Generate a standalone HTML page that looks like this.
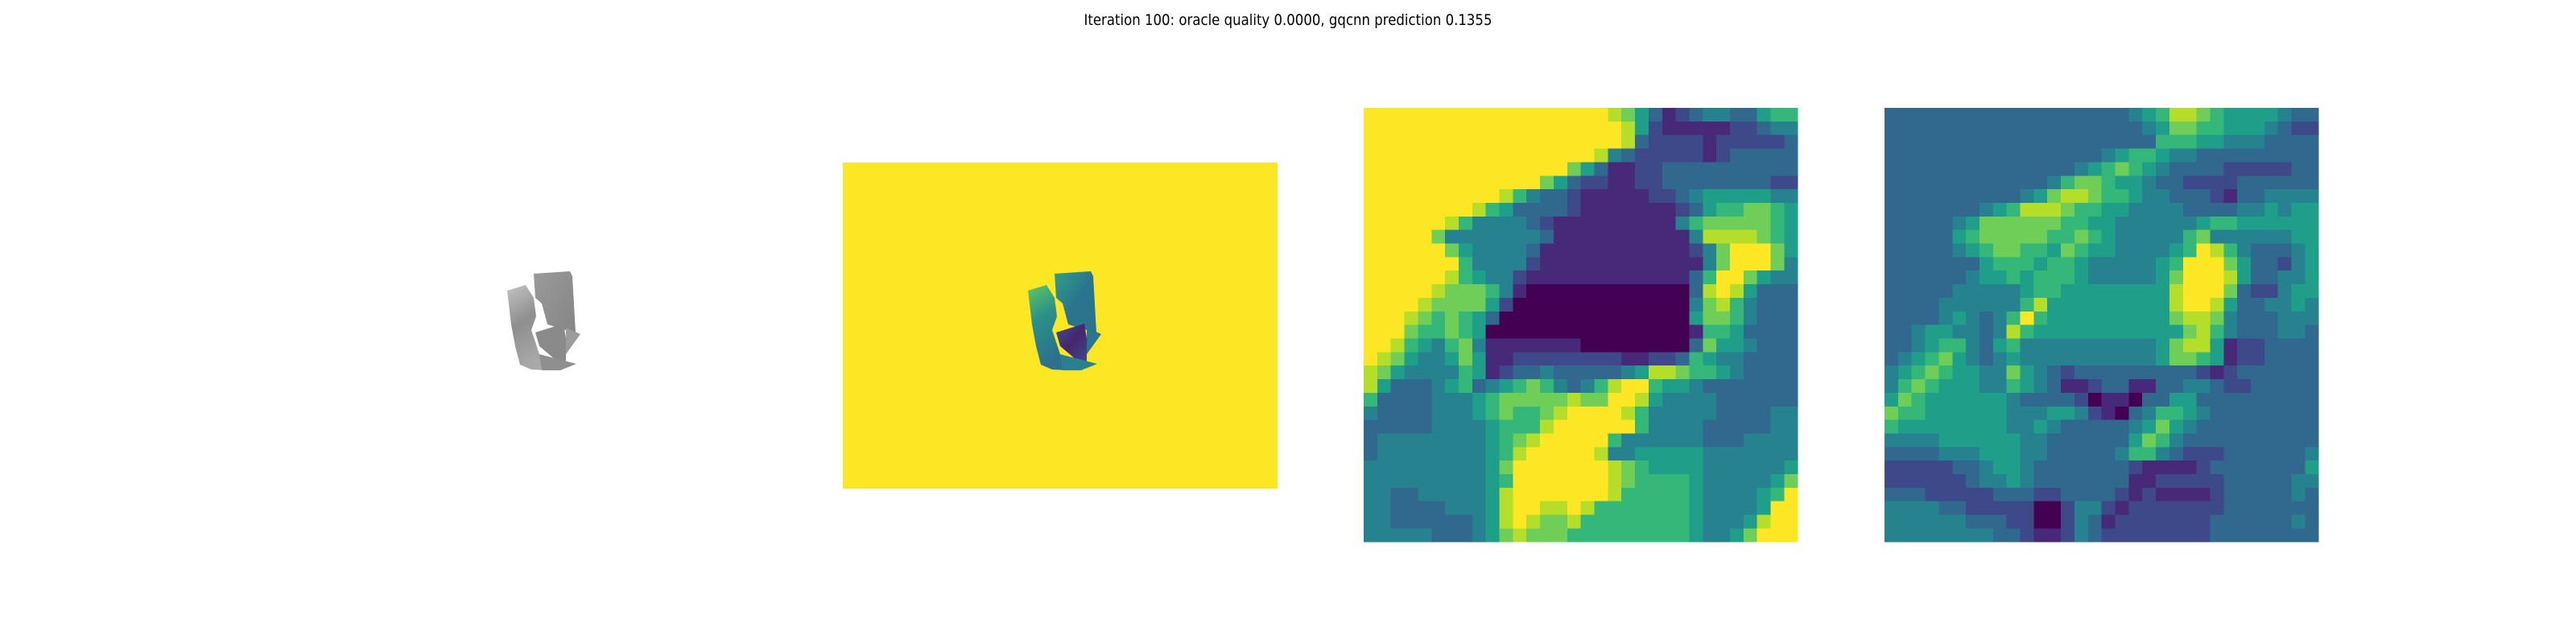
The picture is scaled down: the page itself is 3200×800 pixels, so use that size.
<!DOCTYPE html>
<html><head><meta charset="utf-8"><style>
html,body{margin:0;padding:0;background:#fff;}
svg{display:block;}
</style></head><body>
<svg id="fig" width="3200" height="800" viewBox="0 0 3200 800" xmlns="http://www.w3.org/2000/svg" shape-rendering="crispEdges">
<defs>
<linearGradient id="gArmL" x1="0" y1="0" x2="0.3" y2="1"><stop offset="0" stop-color="#5ec962"/><stop offset="0.45" stop-color="#2a8f8a"/><stop offset="1" stop-color="#2c6f8e"/></linearGradient>
<linearGradient id="gBlock" x1="0" y1="0" x2="1" y2="1"><stop offset="0" stop-color="#2fa184"/><stop offset="0.5" stop-color="#2b758e"/><stop offset="1" stop-color="#2c728e"/></linearGradient>
<linearGradient id="gDark" x1="0" y1="0" x2="1" y2="1"><stop offset="0" stop-color="#3b528b"/><stop offset="0.5" stop-color="#46256f"/><stop offset="1" stop-color="#3e4a89"/></linearGradient>
<linearGradient id="gGrayL" x1="0" y1="0" x2="0.3" y2="1"><stop offset="0" stop-color="#c4c4c4"/><stop offset="0.5" stop-color="#8e8e8e"/><stop offset="1" stop-color="#a8a8a8"/></linearGradient>
<linearGradient id="gGrayB" x1="0" y1="0" x2="1" y2="1"><stop offset="0" stop-color="#9a9a9a"/><stop offset="1" stop-color="#858585"/></linearGradient>
</defs>
<text x="1600" y="31" text-anchor="middle" font-family="'DejaVu Sans','Liberation Sans',sans-serif" font-size="19" textLength="507" lengthAdjust="spacingAndGlyphs" fill="#000" shape-rendering="auto">Iteration 100: oracle quality 0.0000, gqcnn prediction 0.1355</text>

<g transform="translate(-647,0)" shape-rendering="auto">
  <polygon points="1310,340 1355,337 1358,343 1362,413 1350,410 1327,403 1320,377 1312,370" fill="url(#gGrayB)"/>
  <polygon points="1277,361 1300,354 1310,370 1313,393 1307,410 1317,440 1327,460 1307,459 1293,453 1287,430 1282,403" fill="url(#gGrayL)"/>
  <polygon points="1312,413 1347,402 1350,420 1350,450 1337,447 1317,430" fill="#8a8a8a"/>
  <polygon points="1350,407 1368,415 1350,440" fill="#9c9c9c"/>
  <polygon points="1317,440 1363,452 1343,460 1320,460" fill="#8f8f8f"/>
</g>

<g>
  <rect x="1047" y="202" width="540" height="405" fill="#fde725"/>
  <g shape-rendering="auto">
  <polygon points="1310,340 1355,337 1358,343 1362,413 1350,410 1327,403 1320,377 1312,370" fill="url(#gBlock)"/>
  <polygon points="1277,361 1300,354 1310,370 1313,393 1307,410 1317,440 1327,460 1307,459 1293,453 1287,430 1282,403" fill="url(#gArmL)"/>
  <polygon points="1312,413 1347,402 1350,420 1350,450 1337,447 1317,430" fill="url(#gDark)"/>
  <polygon points="1350,407 1368,415 1350,440" fill="#2a768e"/>
  <polygon points="1317,440 1363,452 1343,460 1320,460" fill="#2c808e"/>
  </g>
</g>

<g id="hm3"></g>
<g id="hm4"></g>
</svg>
<script>
const viridisLevels = ["#440154","#482878","#3e4989","#31688e","#26828e","#1f9e89","#35b779","#6ece58","#b5de2b","#fde725"];
const cropRows = [
"99999999999999999987531234433566",
"99999999999999999998521111122344",
"99999999999999999998322221222223",
"99999999999999999843222221233333",
"99999999999999975311223333333333",
"99999999999997532211223333333322",
"99999999998643321111122345555544",
"99999999865333321111111235667765",
"99999986444432111111111467777765",
"99999744444443111111111148888765",
"99999975444431111111111124799975",
"99999996444421111111111114799974",
"99999986544211111111111136997544",
"99999877764100000000000038985333",
"99998777752000000000000047864333",
"99987676530000000000000057764333",
"99976676500000000000000016653333",
"99865467411111110000000037554333",
"98754457511222222221122365443333",
"87544446512334333334588766543333",
"85333456345676434689965543333333",
"63333444567777787799854444333333",
"43333444567667899998644444333344",
"33333444456668999999644443333344",
"34444444456789999964444443334444",
"34444444456899999844555554444444",
"44444444457999999987655554444445",
"44444444456999999987666654444457",
"44334444458999999986666654444569",
"44333344458998898666666654444599",
"44333333458987786666666654445899",
"44444333457877766666666654457999"];
const processedRows = [
"33333333333333333345688765555433",
"33333333333333333334577665554322",
"33333333333333333333666554443333",
"33333333333333334566544333333333",
"33333333333333456765433332222233",
"33333333333346776554332222333333",
"33333333334578876654433321334444",
"33333334568887665544443333445455",
"33333457777776655444444566555555",
"33333567777766765444446744444455",
"33333456776657655444456986433345",
"33333335666566544444569997533245",
"33333345565666544444579998533445",
"33333444445665555555589997322455",
"33334444446855555555589985334454",
"33334543469655555555578874333444",
"33455443486555555555557864333443",
"33456643564444444444578851223333",
"34567543454444444444577651223333",
"45676554475432333333333212333333",
"46765554465431123311334432233333",
"57655555543333201103355333333333",
"76655555544455421034665433333333",
"65555555544543333345754333333333",
"44445555554433333357643333333333",
"33334445554433333466432223333334",
"22222334554333333321111233333335",
"22222234454333333311222223333344",
"33322222333223333212111123333343",
"44443322222002442122222223333333",
"44444433322002431222222233333343",
"44444444332112432222222233333333"];

function drawHeatmap(groupId, rows, x0, y0, size, cellName){
  const g = document.getElementById(groupId);
  const n = rows.length;
  const cs = size / n;
  for (let r = 0; r < n; r++) {
    for (let c = 0; c < n; c++) {
      const v = parseInt(rows[r][c] || "3", 10);
      const el = document.createElementNS("http://www.w3.org/2000/svg", "rect");
      el.setAttribute("x", (x0 + c * cs).toFixed(2));
      el.setAttribute("y", (y0 + r * cs).toFixed(2));
      el.setAttribute("width", (c === n - 1 ? cs : cs + 0.6).toFixed(2));
      el.setAttribute("height", (r === n - 1 ? cs : cs + 0.6).toFixed(2));
      el.setAttribute("fill", viridisLevels[v]);
      
      
      g.appendChild(el);
    }
  }
}
drawHeatmap("hm3", cropRows, 1694, 134, 539.3, "crop-heatmap-cell");
drawHeatmap("hm4", processedRows, 2341, 134, 539.3, "processed-heatmap-cell");
</script>
</body></html>
